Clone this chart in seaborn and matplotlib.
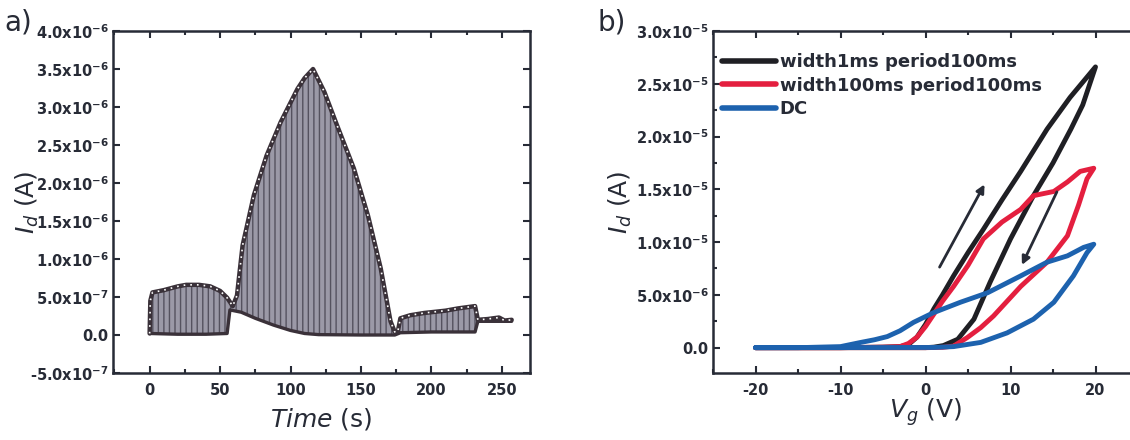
import numpy as np
import pandas as pd
import matplotlib
matplotlib.use("Agg")
import matplotlib.pyplot as plt
import seaborn as sns
from matplotlib.ticker import FuncFormatter, MultipleLocator

# ---- panel a: pulsed drain current vs time (envelopes, units of 1e-7 A)
time_up = [0, 0.5, 2, 10, 20, 26, 35, 43, 50, 55, 59, 62, 66, 74, 83, 93, 105,
           110, 116, 120, 124, 133, 145, 155, 164, 171, 174, 176, 178, 185,
           195, 210, 219, 231, 233, 240, 248, 252, 257]
id_up = [0.2, 4.5, 5.6, 5.9, 6.4, 6.6, 6.6, 6.4, 5.8, 4.9, 3.8, 5.2, 11.8,
         18.4, 23.6, 28.0, 32.4, 33.8, 35.0, 33.5, 32.0, 27.6, 21.9, 15.7,
         8.8, 1.8, 0.4, 0.3, 2.2, 2.6, 2.9, 3.2, 3.5, 3.8, 2.0, 2.1, 2.3,
         1.9, 2.0]
time_lo = [0, 20, 40, 55, 57, 65, 75, 88, 100, 110, 120, 150, 174, 178, 200,
           231, 233, 257]
id_lo = [0.2, 0.1, 0.1, 0.2, 3.3, 3.0, 2.2, 1.3, 0.6, 0.2, 0.05, 0.0, 0.0,
         0.3, 0.4, 0.4, 1.8, 1.8]
scale_a = 1e-7

# ---- panel b: transfer hysteresis loops (units of 1e-6 A)
series = ["width1ms period100ms", "width100ms period100ms", "DC"]
vg_black = [-20, -10, -5, -3, -2, -1, 0, 1, 2, 3.3, 5, 6.8, 9, 11.2, 14.3, 17, 20,
            18.5, 17.1, 15, 12.7, 10, 7.6, 5.7, 3.8, 2.1, 1, 0, -10, -20]
id_black = [0, 0, 0.05, 0.1, 0.3, 1.0, 2.2, 3.7, 5.0, 6.8, 9.0, 11.2, 14.0,
            16.7, 20.7, 23.7, 26.6,
            23.0, 20.7, 17.5, 14.4, 10.3, 6.2, 2.7, 0.8, 0.2, 0.05, 0, 0, 0]
vg_red = [-20, -10, -5, -3, -2, -1, 0, 1, 2, 3.3, 5, 6.8, 9, 11.2, 12.7, 15.1,
          16.7, 18.2, 19.8,
          19, 18, 16.7, 14.3, 11.2, 8, 6.5, 4.9, 3.3, 2, 0, -10, -20]
id_red = [0, 0, 0.05, 0.1, 0.4, 1.0, 2.0, 3.2, 4.4, 5.8, 7.8, 10.3, 11.9, 13.1,
          14.4, 14.8, 15.7, 16.7, 17.0,
          16.0, 13.5, 10.6, 8.1, 5.8, 3.0, 1.9, 0.95, 0.15, 0.03, 0, 0, 0]
vg_blue = [-20, -15, -10, -7.6, -6, -4.5, -3, -1.4, 0.9, 4.1, 7.3, 11.2, 14.3,
           16.7, 18.6, 19.8,
           19, 17.4, 15.1, 12.7, 9.6, 6.5, 3.3, 1, -20]
id_blue = [0, 0, 0.1, 0.5, 0.75, 1.05, 1.6, 2.4, 3.3, 4.3, 5.2, 6.8, 8.1,
           8.7, 9.5, 9.8,
           9.0, 6.8, 4.3, 2.7, 1.4, 0.5, 0.1, 0.02, 0]
scale_b = 1e-6

colors = {"width1ms period100ms": "#1f1f24",
          "width100ms period100ms": "#e41f3f",
          "DC": "#1d62ae"}
ink = "#272b36"

sns.set_style("ticks")
plt.rcParams["font.family"] = ["DejaVu Sans"]
plt.rcParams["mathtext.fontset"] = "dejavusans"
plt.rcParams["axes.unicode_minus"] = False
plt.rcParams["hatch.linewidth"] = 1.0
plt.rcParams["axes.linewidth"] = 1.8
plt.rcParams["axes.edgecolor"] = ink


def sci_fmt(v, pos):
    if abs(v) < 1e-12:
        return "0.0"
    e = int(np.floor(np.log10(abs(v)) + 1e-9))
    m = v / 10 ** e
    return f"{m:.1f}x10$^{{\\mathbf{{{e}}}}}$"


fig = plt.figure(figsize=(11.3, 4.4), dpi=100)
ax_a = fig.add_axes([113 / 1130, 67 / 440, 417 / 1130, 342 / 440])
ax_b = fig.add_axes([713 / 1130, 67 / 440, 425 / 1130, 342 / 440])

# ---- panel a
up_t = np.array(time_up)
up_i = np.array(id_up) * scale_a
lo_t = np.array(time_lo)
lo_i = np.array(id_lo) * scale_a
ax_a.fill(np.concatenate([up_t, lo_t[::-1]]), np.concatenate([up_i, lo_i[::-1]]),
          facecolor="#9b99a7", edgecolor="#55525f", hatch="|||", linewidth=0)
sns.lineplot(x=up_t, y=up_i, sort=False, estimator=None, color="#3a3139",
             linewidth=3.2, ax=ax_a)
sns.lineplot(x=lo_t, y=lo_i, sort=False, estimator=None, color="#3a3139",
             linewidth=2.4, ax=ax_a)
sns.lineplot(x=up_t, y=up_i, sort=False, estimator=None, color="white",
             linewidth=1.2, linestyle=(0, (1, 3)), ax=ax_a)

ax_a.set_xlim(-26, 270)
ax_a.set_ylim(-5e-7, 4e-6)
ax_a.xaxis.set_major_locator(MultipleLocator(50))
ax_a.xaxis.set_minor_locator(MultipleLocator(25))
ax_a.yaxis.set_major_locator(MultipleLocator(5e-7))
ax_a.yaxis.set_major_formatter(FuncFormatter(sci_fmt))
ax_a.set_xlabel(r"$\it{Time}$ (s)", fontsize=18, labelpad=6, color=ink)
ax_a.set_ylabel(r"$I_d$ (A)", fontsize=18, color=ink)
ax_a.yaxis.set_label_coords(-0.172, 0.5)

# ---- panel b
df_b = pd.concat([
    pd.DataFrame({"Vg": vg_black, "Id": np.array(id_black) * scale_b, "series": series[0]}),
    pd.DataFrame({"Vg": vg_red, "Id": np.array(id_red) * scale_b, "series": series[1]}),
    pd.DataFrame({"Vg": vg_blue, "Id": np.array(id_blue) * scale_b, "series": series[2]}),
], ignore_index=True)
sns.lineplot(data=df_b, x="Vg", y="Id", hue="series", hue_order=series,
             palette=colors, sort=False, estimator=None, linewidth=3.5, ax=ax_b)

ax_b.annotate("", xy=(7.1, 15.7e-6), xytext=(1.5, 7.4e-6),
              arrowprops=dict(arrowstyle="-|>", color=ink, lw=2, mutation_scale=12))
ax_b.annotate("", xy=(11.2, 7.6e-6), xytext=(15.6, 15.0e-6),
              arrowprops=dict(arrowstyle="-|>", color=ink, lw=2, mutation_scale=12))

ax_b.set_xlim(-25, 25)
ax_b.set_ylim(-2.4e-6, 3.0e-5)
ax_b.xaxis.set_major_locator(MultipleLocator(10))
ax_b.xaxis.set_minor_locator(MultipleLocator(5))
ax_b.yaxis.set_major_locator(MultipleLocator(5e-6))
ax_b.yaxis.set_minor_locator(MultipleLocator(2.5e-6))
ax_b.yaxis.set_major_formatter(FuncFormatter(sci_fmt))
ax_b.set_xlabel(r"$V_g$ (V)", fontsize=18, labelpad=-1, color=ink)
ax_b.set_ylabel(r"$I_d$ (A)", fontsize=18, color=ink)
ax_b.yaxis.set_label_coords(-0.185, 0.5)

leg = ax_b.legend(loc="upper left", bbox_to_anchor=(0.021, 0.936), frameon=False,
                  borderpad=0, borderaxespad=0, handlelength=3.0,
                  handletextpad=0.2, labelspacing=0.32,
                  prop={"size": 13, "weight": "bold"})
for line in leg.get_lines():
    line.set_linewidth(4)
for txt in leg.get_texts():
    txt.set_color(ink)

for ax in (ax_a, ax_b):
    ax.tick_params(which="both", direction="in", top=True, right=True,
                   width=1.5, color=ink)
    ax.tick_params(which="major", length=5)
    ax.tick_params(which="minor", length=3)
    ax.tick_params(axis="x", pad=7)
    ax.tick_params(axis="y", pad=3)
    for lab in ax.get_xticklabels() + ax.get_yticklabels():
        lab.set_fontsize(10.5)
        lab.set_fontweight("bold")
        lab.set_color(ink)

fig.text(0.004, 0.95, "a)", fontsize=20, color=ink, va="center")
fig.text(0.529, 0.95, "b)", fontsize=20, color=ink, va="center")

fig.savefig("out.png", dpi=100)
